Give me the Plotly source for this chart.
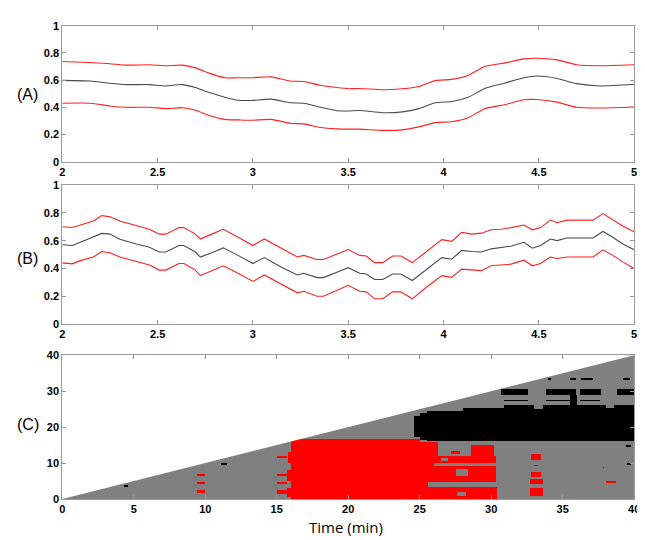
import numpy as np
import plotly.graph_objects as go

# ---------------- Panel A data ----------------
A_X = [2.0, 2.147, 2.25, 2.336, 2.457, 2.543, 2.629, 2.698, 2.767, 2.853, 2.922, 2.991,
       3.095, 3.198, 3.267, 3.353, 3.44, 3.5, 3.56, 3.681, 3.784, 3.871, 3.957, 4.043,
       4.129, 4.216, 4.319, 4.422, 4.491, 4.595, 4.698, 4.819, 5.0]
A_MID = [0.598, 0.593, 0.577, 0.567, 0.567, 0.557, 0.567, 0.545, 0.51, 0.474, 0.452, 0.45,
         0.46, 0.433, 0.43, 0.40, 0.375, 0.373, 0.376, 0.36, 0.366, 0.39, 0.433, 0.443,
         0.474, 0.538, 0.577, 0.617, 0.63, 0.612, 0.574, 0.557, 0.569]
A_UP = [0.737, 0.73, 0.72, 0.71, 0.713, 0.706, 0.71, 0.69, 0.653, 0.617, 0.617, 0.617,
        0.624, 0.593, 0.59, 0.562, 0.545, 0.536, 0.538, 0.529, 0.536, 0.553, 0.596, 0.605,
        0.634, 0.70, 0.725, 0.756, 0.761, 0.749, 0.713, 0.706, 0.713]
A_LO = [0.43, 0.43, 0.41, 0.40, 0.40, 0.39, 0.397, 0.378, 0.342, 0.311, 0.307, 0.304,
        0.311, 0.282, 0.278, 0.251, 0.241, 0.239, 0.239, 0.23, 0.234, 0.256, 0.287, 0.294,
        0.323, 0.39, 0.419, 0.455, 0.457, 0.438, 0.40, 0.395, 0.402]

# ---------------- Panel B data ----------------
B_X = [2.0, 2.052, 2.095, 2.164, 2.207, 2.25, 2.302, 2.388, 2.457, 2.509, 2.543, 2.612,
       2.638, 2.698, 2.724, 2.784, 2.845, 2.922, 3.0, 3.06, 3.147, 3.233, 3.267, 3.336,
       3.37, 3.457, 3.5, 3.56, 3.595, 3.638, 3.681, 3.733, 3.776, 3.836, 3.905, 3.991,
       4.043, 4.095, 4.147, 4.198, 4.25, 4.302, 4.353, 4.422, 4.466, 4.509, 4.56, 4.595,
       4.647, 4.784, 4.836, 4.888, 4.94, 5.0]
B_MID = [0.57, 0.565, 0.588, 0.624, 0.652, 0.647, 0.61, 0.576, 0.553, 0.518, 0.518, 0.565,
         0.565, 0.518, 0.482, 0.513, 0.548, 0.494, 0.435, 0.478, 0.41, 0.353, 0.365, 0.334,
         0.334, 0.381, 0.405, 0.365, 0.36, 0.32, 0.32, 0.36, 0.36, 0.313, 0.388, 0.478,
         0.466, 0.53, 0.522, 0.518, 0.541, 0.553, 0.56, 0.588, 0.546, 0.565, 0.612, 0.60,
         0.619, 0.619, 0.666, 0.624, 0.576, 0.534]
B_UP = [0.70, 0.695, 0.713, 0.741, 0.78, 0.772, 0.741, 0.706, 0.682, 0.647, 0.647, 0.694,
        0.694, 0.647, 0.612, 0.647, 0.682, 0.624, 0.565, 0.612, 0.548, 0.482, 0.494, 0.464,
        0.464, 0.513, 0.536, 0.494, 0.489, 0.442, 0.442, 0.489, 0.489, 0.442, 0.518, 0.607,
        0.595, 0.659, 0.647, 0.654, 0.678, 0.682, 0.694, 0.713, 0.678, 0.694, 0.748, 0.729,
        0.748, 0.748, 0.795, 0.753, 0.706, 0.664]
B_LO = [0.44, 0.433, 0.456, 0.482, 0.522, 0.513, 0.482, 0.452, 0.424, 0.388, 0.388, 0.435,
        0.435, 0.388, 0.348, 0.384, 0.419, 0.365, 0.306, 0.353, 0.287, 0.224, 0.235, 0.20,
        0.20, 0.254, 0.278, 0.235, 0.231, 0.181, 0.181, 0.231, 0.231, 0.181, 0.259, 0.348,
        0.336, 0.395, 0.388, 0.384, 0.419, 0.424, 0.431, 0.459, 0.419, 0.435, 0.482, 0.471,
        0.482, 0.482, 0.534, 0.494, 0.447, 0.40]

# ---------------- Panel C data ----------------
C_TIME_MAX = 40.0  # analysed window grows with time: only y <= t is defined
C_RED = [
    (16.0, 25.0, 0.0, 16.7),
    (15.7, 16.0, 0.5, 3.0), (15.7, 16.0, 5.0, 8.0), (15.8, 16.0, 10.0, 13.0),
    (9.4, 10.0, 6.4, 7.0), (9.4, 10.0, 4.2, 4.8), (9.4, 10.0, 1.7, 2.4),
    (15.0, 15.7, 11.6, 12.1), (15.0, 15.7, 6.4, 7.0), (15.0, 15.7, 4.2, 4.8), (15.0, 15.7, 1.6, 2.6),
    (25.0, 26.3, 4.7, 16.1), (26.3, 30.3, 4.7, 12.0), (28.6, 30.2, 12.0, 15.0),
    (25.0, 30.4, 0.0, 3.4), (25.0, 25.6, 3.4, 4.7), (27.2, 27.8, 12.5, 13.5),
    (32.8, 33.5, 11.1, 12.4), (33.0, 33.3, 9.2, 9.6), (32.8, 33.5, 6.2, 7.4),
    (32.7, 33.6, 4.3, 5.6), (32.7, 33.6, 0.9, 2.9),
    (38.0, 38.7, 4.6, 5.0), (37.8, 37.9, 8.8, 9.1),
]
C_BLACK = [
    (24.6, 25.5, 17.2, 23.0), (25.0, 26.0, 16.5, 24.0), (25.5, 40.0, 16.2, 24.6),
    (28.0, 40.0, 16.2, 25.3), (30.9, 40.0, 16.2, 26.2),
    (30.7, 32.6, 28.9, 30.5), (33.8, 35.9, 28.9, 30.5), (36.2, 37.7, 28.9, 30.5), (38.8, 40.0, 28.9, 30.5),
    (30.9, 32.6, 27.2, 27.6), (33.8, 35.9, 27.2, 27.6), (36.2, 37.6, 27.2, 27.6),
    (34.0, 34.2, 33.1, 33.7), (35.5, 35.9, 33.1, 33.7), (36.3, 37.1, 33.1, 33.7), (39.2, 39.7, 33.1, 33.7),
    (35.5, 36.0, 26.2, 29.0),
    (4.3, 4.6, 3.4, 3.9), (11.1, 11.5, 9.4, 10.0), (39.5, 39.8, 9.5, 9.9), (39.4, 39.8, 14.5, 15.0),
]
C_GRAY = [
    (26.0, 30.3, 9.3, 9.9), (27.5, 28.4, 6.5, 8.4), (26.5, 27.0, 10.5, 11.5), (27.6, 28.2, 1.0, 2.0),
    (33.0, 33.6, 24.9, 26.5), (38.0, 38.6, 25.3, 26.5),
]

xc = np.arange(0.05, C_TIME_MAX, 0.1)
yc = np.arange(0.125, C_TIME_MAX, 0.25)
XX, YY = np.meshgrid(xc, yc)
tri = YY <= XX + 0.6
Z = np.where(tri, 1.0, np.nan)


def paint(rects, val):
    for x0, x1, y0, y1 in rects:
        m = tri & (XX >= x0) & (XX <= x1) & (YY >= y0) & (YY <= y1)
        Z[m] = val


paint(C_RED, 2.0)
paint(C_BLACK, 3.0)
paint(C_GRAY, 1.0)

RED = "#ff2020"
MID = "#4a4a4a"

fig = go.Figure()
for ys, col in [(A_UP, RED), (A_LO, RED), (A_MID, MID)]:
    fig.add_trace(go.Scatter(x=A_X, y=ys, mode="lines", line=dict(color=col, width=1.1, shape="spline", smoothing=0.6),
                             xaxis="x", yaxis="y", hoverinfo="skip", showlegend=False))
for ys, col in [(B_UP, RED), (B_LO, RED), (B_MID, MID)]:
    fig.add_trace(go.Scatter(x=B_X, y=ys, mode="lines", line=dict(color=col, width=1.1),
                             xaxis="x2", yaxis="y2", hoverinfo="skip", showlegend=False))

fig.add_trace(go.Heatmap(x=xc, y=yc, z=Z, zmin=1, zmax=3, showscale=False, hoverinfo="skip",
                         colorscale=[[0, "#808080"], [0.33, "#808080"], [0.34, "#ff0000"], [0.66, "#ff0000"],
                                     [0.67, "#000000"], [1, "#000000"]],
                         xaxis="x3", yaxis="y3"))
# undefined region above the diagonal (y > t) masked in white for a clean edge
fig.add_trace(go.Scatter(x=[0, 0, C_TIME_MAX, 0], y=[0, C_TIME_MAX, C_TIME_MAX, 0], mode="lines",
                         fill="toself", fillcolor="white", line=dict(width=0, color="white"),
                         xaxis="x3", yaxis="y3", hoverinfo="skip", showlegend=False))

tickfont = dict(family="Liberation Sans, Arial, sans-serif", size=11, color="black", weight="bold")
ax = dict(showline=True, linecolor="#9a9a9a", linewidth=1, mirror="ticks", ticks="inside", ticklen=4,
          tickcolor="#9a9a9a", showgrid=False, zeroline=False, tickfont=tickfont, layer="above traces")

xd = [52 / 645, 632 / 645]
fig.update_layout(
    width=645, height=540, margin=dict(l=0, r=0, t=0, b=0),
    paper_bgcolor="white", plot_bgcolor="white",
    xaxis=dict(ax, domain=xd, range=[2, 5], tickvals=[2, 2.5, 3, 3.5, 4, 4.5, 5], anchor="y"),
    yaxis=dict(ax, domain=[1 - 151 / 540, 1 - 12 / 540], range=[0, 1], tickvals=[0, 0.2, 0.4, 0.6, 0.8, 1], anchor="x"),
    xaxis2=dict(ax, domain=xd, range=[2, 5], tickvals=[2, 2.5, 3, 3.5, 4, 4.5, 5], anchor="y2"),
    yaxis2=dict(ax, domain=[1 - 317 / 540, 1 - 175 / 540], range=[0, 1], tickvals=[0, 0.2, 0.4, 0.6, 0.8, 1], anchor="x2"),
    xaxis3=dict(ax, domain=xd, range=[0, 40], tickvals=[0, 5, 10, 15, 20, 25, 30, 35, 40], anchor="y3"),
    yaxis3=dict(ax, domain=[1 - 496 / 540, 1 - 349 / 540], range=[0, 40], tickvals=[0, 10, 20, 30, 40], anchor="x3"),
)

lab_font = dict(family="Liberation Sans, Arial, sans-serif", size=16, color="black")
for txt, ypx in [("(A)", 82), ("(B)", 250), ("(C)", 420)]:
    fig.add_annotation(text=txt, x=17 / 645, y=1 - ypx / 540, xref="paper", yref="paper",
                       showarrow=False, font=lab_font, xanchor="center", yanchor="middle")
fig.add_annotation(text="Time (min)", x=340 / 645, y=1 - 525 / 540, xref="paper", yref="paper",
                   showarrow=False, font=dict(family="Open Sans, sans-serif", size=15, color="black"),
                   xanchor="center", yanchor="middle")

fig.write_html("out.html")
